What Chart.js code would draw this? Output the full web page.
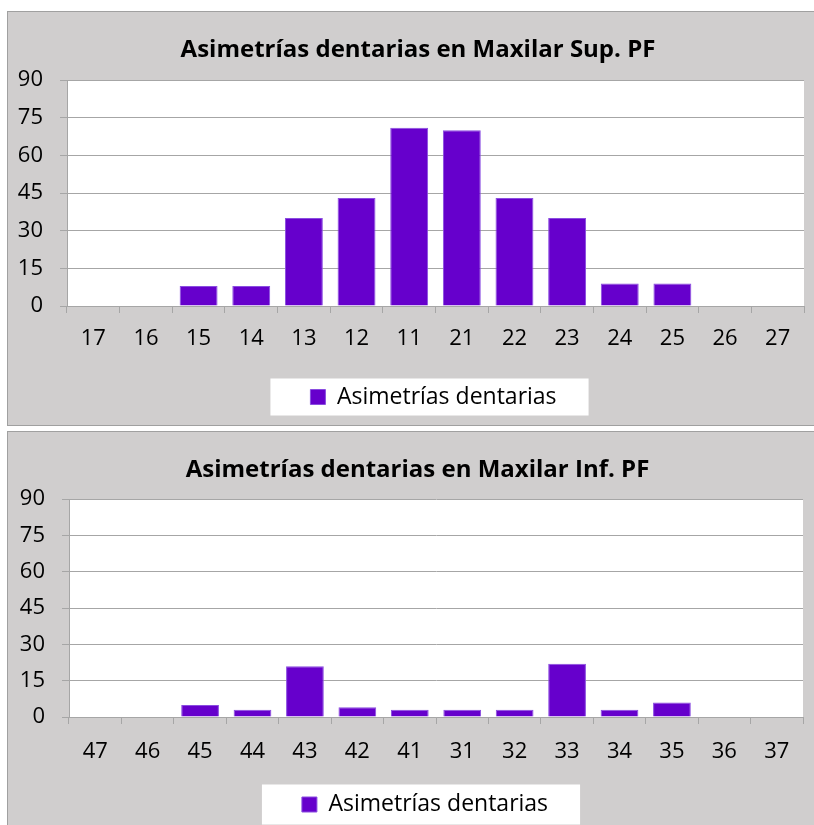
<!DOCTYPE html>
<html>
<head>
<meta charset="utf-8">
<script src="https://cdn.jsdelivr.net/npm/chart.js@4.4.1/dist/chart.umd.min.js"></script>
<style>
  html, body { margin: 0; padding: 0; background: #ffffff; width: 814px; height: 825px; overflow: hidden; }
  .panel { position: absolute; left: 7px; width: 900px; background: #d0cece; border: 1px solid #a0a0a0; overflow: hidden; }
  #panelSup { top: 11px; height: 413px; }
  #panelInf { top: 431px; height: 500px; }
  .panel canvas { position: absolute; left: 0; top: 0; }
</style>
</head>
<body>
<div class="panel" id="panelSup"><canvas id="chartSup" width="830" height="412"></canvas></div>
<div class="panel" id="panelInf"><canvas id="chartInf" width="830" height="400"></canvas></div>
<script>
// Upper jaw (maxilar superior), teeth in arch order
const supTeeth = ['17', '16', '15', '14', '13', '12', '11', '21', '22', '23', '24', '25', '26', '27'];
const supValues = [0, 0, 8, 8, 35, 43, 71, 70, 43, 35, 9, 9, 0, 0];
const supTitle = 'Asimetrías dentarias en Maxilar Sup. PF';

// Lower jaw (maxilar inferior)
const infTeeth = ['47', '46', '45', '44', '43', '42', '41', '31', '32', '33', '34', '35', '36', '37'];
const infValues = [0, 0, 5, 3, 21, 4, 3, 3, 3, 22, 3, 6, 0, 0];
const infTitle = 'Asimetrías dentarias en Maxilar Inf. PF';

const seriesLabel = 'Asimetrías dentarias';
const yMin = 0, yMax = 90, yStep = 15;

const FONT = '"Open Sans", Lato, sans-serif';
const GRID = '#a6a6a6';

// White plot area, sideways placement of title and legend, white box behind the legend
const legendPanel = {
  id: 'legendPanel',
  afterLayout(chart, args, opts) {
    const lg = chart.legend;
    if (lg) { lg.left += opts.shift; lg.right += opts.shift; }
    const tt = chart.titleBlock;
    if (tt) { tt.left += opts.titleShift; tt.right += opts.titleShift; }
  },
  beforeDraw(chart, args, opts) {
    const ctx = chart.ctx;
    const a = chart.chartArea;
    ctx.save();
    ctx.fillStyle = '#ffffff';
    ctx.fillRect(a.left, a.top, a.right - a.left, a.bottom - a.top);
    const lg = chart.legend;
    if (lg && lg.legendHitBoxes && lg.legendHitBoxes.length) {
      const hb = lg.legendHitBoxes[0];
      const cy = hb.top + hb.height / 2;
      ctx.fillRect(hb.left - opts.padLeft, cy - opts.boxHeight / 2,
                   hb.width + opts.padLeft + opts.padRight, opts.boxHeight);
    }
    ctx.restore();
  }
};

function makeChart(id, teeth, values, title, cfg) {
  return new Chart(document.getElementById(id), {
    type: 'bar',
    data: {
      labels: teeth,
      datasets: [{
        label: seriesLabel,
        data: values,
        backgroundColor: '#6600cc',
        borderColor: '#8a4de0',
        borderWidth: 1,
        barPercentage: 0.72,
        categoryPercentage: 1.0
      }]
    },
    options: {
      responsive: false,
      animation: false,
      devicePixelRatio: 1,
      layout: { padding: { left: 0, right: cfg.padRight, top: 0, bottom: cfg.padBottom } },
      plugins: {
        title: {
          display: true,
          text: title,
          color: '#000000',
          font: { family: FONT, size: 24, weight: 'bold', lineHeight: 1.2 },
          padding: { top: cfg.titleTop, bottom: cfg.titleBottom }
        },
        legend: {
          display: true,
          position: 'bottom',
          labels: {
            color: '#000000',
            font: { family: FONT, size: 23, lineHeight: 1.2 },
            boxWidth: 15,
            boxHeight: 15,
            padding: 10
          }
        },
        tooltip: { enabled: false },
        legendPanel: { shift: cfg.legendShift, titleShift: 12, padLeft: 40, padRight: 32, boxHeight: cfg.boxHeight }
      },
      scales: {
        x: {
          grid: { display: true, drawOnChartArea: false, drawTicks: true, tickLength: 7, color: GRID, offset: true },
          border: { display: true, color: GRID },
          ticks: { color: '#000000', font: { family: FONT, size: 22, lineHeight: 1.2 }, padding: cfg.xPad, maxRotation: 0, autoSkip: false },
          afterFit(scale) { scale.height = cfg.xHeight; }
        },
        y: {
          min: yMin,
          max: yMax,
          grid: { color: GRID, tickLength: 7, drawTicks: true },
          border: { display: true, color: GRID },
          ticks: { stepSize: yStep, color: '#000000', font: { family: FONT, size: 22, lineHeight: 1.2 }, padding: 17 },
          afterFit(scale) { scale.width = cfg.yWidth; }
        }
      }
    },
    plugins: [legendPanel]
  });
}

makeChart('chartSup', supTeeth, supValues, supTitle, {
  padRight: 34, padBottom: 5.5, titleTop: 23.6, titleBottom: 15.6,
  xPad: 13, xHeight: 69.5, yWidth: 59, legendShift: 27.5, boxHeight: 37
});

makeChart('chartInf', infTeeth, infValues, infTitle, {
  padRight: 35, padBottom: 6, titleTop: 24.1, titleBottom: 14.1,
  xPad: 14.3, xHeight: 66, yWidth: 61, legendShift: 19.5, boxHeight: 40
});
</script>
</body>
</html>
